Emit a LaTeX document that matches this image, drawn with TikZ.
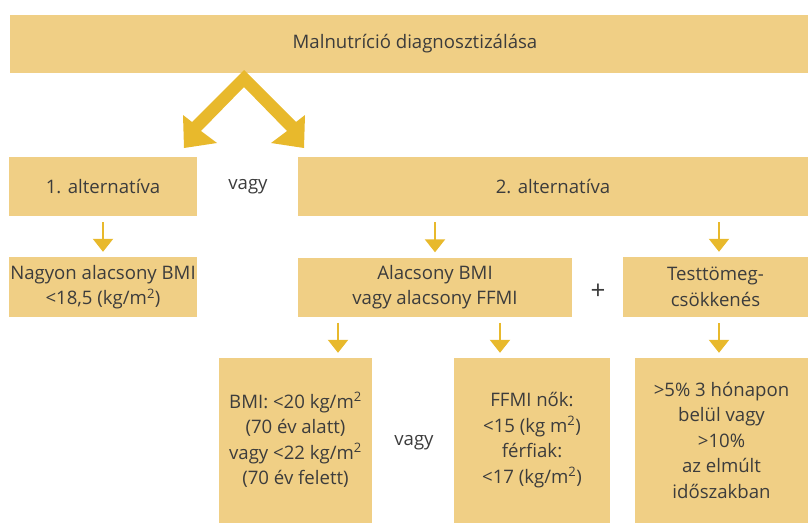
\documentclass[tikz,border=0pt]{standalone}
\usepackage{fontspec}
\setmainfont{Open Sans}
\usetikzlibrary{arrows.meta}
\definecolor{boxc}{HTML}{F0CF85}
\definecolor{arrc}{HTML}{E8B92C}
\definecolor{txtc}{HTML}{3C3C3C}
\begin{document}
\begin{tikzpicture}[x=1pt,y=-1pt,
  txt/.style={text=txtc, align=center, inner sep=0pt, font=\fontsize{18.6}{25.5}\selectfont},
  box/.style={txt, fill=boxc, draw=none},
  smallarr/.style={draw=arrc, line width=2.2pt, -{Triangle[width=20pt,length=13pt]}, shorten <=6pt, shorten >=5pt}]
\useasboundingbox (0,0) rectangle (808,522);
\node[box, minimum width=798pt, minimum height=58pt] (top) at (409,44) {};
\node[txt] (topt) at (415,44) {Malnutríció diagnosztizálása};
\node[box, minimum width=188pt, minimum height=59pt] (alt1) at (103,186.5) {1. alternatíva};
\node[txt] (vagy1) at (248,187) {vagy};
\node[box, minimum width=510pt, minimum height=59pt] (alt2) at (553,186.5) {2. alternatíva};
\node[box, minimum width=188pt, minimum height=60pt] (nagyon) at (103,287) {Nagyon alacsony BMI\\<18,5 (kg/m\textsuperscript{2})};
\node[box, minimum width=274pt, minimum height=59pt] (low) at (435,287) {Alacsony BMI\\vagy alacsony FFMI};
\node[txt, font=\fontsize{26}{26}\selectfont] (plus) at (598,292) {+};
\node[box, minimum width=185pt, minimum height=60pt] (loss) at (715.5,287) {Testtömeg-\\csökkenés};
\node[box, minimum width=153pt, minimum height=166pt] (bmi) at (295.5,441) {};
\node[txt] (bmit) at (295.5,440) {BMI: <20 kg/m\textsuperscript{2}\\(70 év alatt)\\vagy <22 kg/m\textsuperscript{2}\\(70 év felett)};
\node[txt] (vagy2) at (414,443) {vagy};
\node[box, minimum width=156pt, minimum height=166pt] (ffmi) at (532,441) {};
\node[txt] (ffmit) at (532,440) {FFMI nők:\\<15 (kg m\textsuperscript{2})\\férfiak:\\<17 (kg/m\textsuperscript{2})};
\node[box, minimum width=173pt, minimum height=166pt] (pct) at (721.5,441) {};
\node[txt] (pctt) at (721.5,440) {>5\% 3 hónapon\\belül vagy\\>10\%\\az elmúlt\\időszakban};
% big chevron
\fill[arrc] (244,70) -- (296,122) -- (305,115) -- (304,148) -- (271,143) -- (287,131)
  -- (244,87) -- (201,131) -- (217,143) -- (184,148) -- (183,115) -- (192,122) -- cycle;
% small arrows
\draw[smallarr] (alt1.south) -- (nagyon.north);
\draw[smallarr] (alt2.south -| low.north) -- (low.north);
\coordinate (c1) at ([xshift=3.5pt]alt2.south -| loss.north);
\draw[smallarr] (c1) -- (c1 |- loss.north);
\coordinate (b1) at ([xshift=-97pt]low.south);
\draw[smallarr] (b1) -- (b1 |- bmi.north);
\coordinate (b2) at ([xshift=65pt]low.south);
\draw[smallarr] (b2) -- (b2 |- ffmi.north);
\coordinate (b3) at ([xshift=3.5pt]loss.south);
\draw[smallarr] (b3) -- (b3 |- pct.north);
\end{tikzpicture}
\end{document}
